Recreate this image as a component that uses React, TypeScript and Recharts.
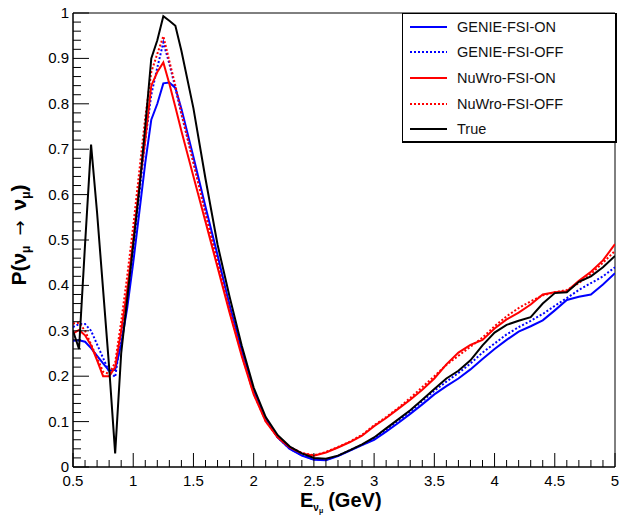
import React from 'react';
import {
  LineChart,
  Line,
  XAxis,
  YAxis,
  Legend,
  ReferenceArea,
} from 'recharts';

// neutrino energy (GeV)
const energies = [
  0.5, 0.55, 0.6, 0.65, 0.7, 0.75, 0.8, 0.85, 0.9, 0.95, 1.0, 1.05, 1.1, 1.15, 1.2, 1.25, 1.3, 1.35, 1.4,
  1.5, 1.6, 1.7, 1.8, 1.9, 2.0, 2.1, 2.2, 2.3, 2.4, 2.5, 2.6, 2.7, 2.8, 2.9, 3.0, 3.1, 3.2, 3.3, 3.4, 3.5,
  3.6, 3.7, 3.8, 3.9, 4.0, 4.1, 4.2, 4.3, 4.4, 4.5, 4.6, 4.7, 4.8, 4.9, 5.0,
];

const genieOn = [
  0.278, 0.279, 0.276, 0.262, 0.245, 0.228, 0.212, 0.214, 0.27, 0.35, 0.45, 0.56, 0.67, 0.765, 0.8, 0.845, 0.847, 0.835, 0.789,
  0.683, 0.573, 0.467, 0.355, 0.258, 0.168, 0.105, 0.065, 0.04, 0.025, 0.016, 0.015, 0.024, 0.036, 0.048, 0.06, 0.078, 0.097, 0.117, 0.138, 0.16,
  0.178, 0.195, 0.215, 0.238, 0.26, 0.28, 0.298, 0.31, 0.323, 0.345, 0.368, 0.375, 0.38, 0.402, 0.427,
];

const genieOff = [
  0.308, 0.315, 0.315, 0.3, 0.27, 0.24, 0.21, 0.198, 0.29, 0.38, 0.48, 0.6, 0.72, 0.82, 0.88, 0.935, 0.888, 0.835, 0.777,
  0.672, 0.564, 0.458, 0.355, 0.258, 0.168, 0.105, 0.065, 0.04, 0.026, 0.017, 0.016, 0.025, 0.037, 0.049, 0.062, 0.082, 0.102, 0.122, 0.145, 0.168,
  0.188, 0.207, 0.228, 0.252, 0.272, 0.292, 0.308, 0.322, 0.337, 0.355, 0.372, 0.39, 0.405, 0.42, 0.44,
];

const nuwroOn = [
  0.294, 0.302, 0.29, 0.268, 0.235, 0.2, 0.2, 0.22, 0.3, 0.39, 0.5, 0.62, 0.72, 0.84, 0.87, 0.891, 0.844, 0.793, 0.74,
  0.64, 0.54, 0.44, 0.34, 0.245, 0.16, 0.1, 0.065, 0.043, 0.03, 0.025, 0.032, 0.043, 0.055, 0.069, 0.09, 0.108, 0.128, 0.148, 0.17, 0.195,
  0.226, 0.252, 0.269, 0.28, 0.305, 0.325, 0.34, 0.358, 0.38, 0.385, 0.387, 0.41, 0.43, 0.455, 0.491,
];

const nuwroOff = [
  0.316, 0.318, 0.3, 0.27, 0.24, 0.21, 0.205, 0.23, 0.32, 0.42, 0.53, 0.65, 0.77, 0.87, 0.91, 0.949, 0.894, 0.84, 0.78,
  0.67, 0.557, 0.45, 0.345, 0.248, 0.162, 0.101, 0.066, 0.044, 0.031, 0.026, 0.033, 0.044, 0.056, 0.071, 0.092, 0.11, 0.13, 0.152, 0.176, 0.2,
  0.225, 0.245, 0.265, 0.285, 0.31, 0.332, 0.35, 0.365, 0.378, 0.385, 0.39, 0.405, 0.425, 0.45, 0.476,
];

const trueP = [
  0.3, 0.26, 0.49, 0.71, 0.56, 0.39, 0.22, 0.03, 0.25, 0.37, 0.49, 0.61, 0.75, 0.9, 0.94, 0.993, 0.983, 0.972, 0.917,
  0.79, 0.635, 0.49, 0.375, 0.268, 0.175, 0.11, 0.07, 0.045, 0.03, 0.02, 0.018, 0.025, 0.037, 0.05, 0.065, 0.085, 0.105, 0.125, 0.148, 0.172,
  0.195, 0.212, 0.235, 0.268, 0.296, 0.313, 0.322, 0.33, 0.36, 0.383, 0.385, 0.408, 0.42, 0.44, 0.465,
];

const xMajorTicks = [0.5, 1, 1.5, 2, 2.5, 3, 3.5, 4, 4.5, 5];
const yMajorTicks = [0, 0.1, 0.2, 0.3, 0.4, 0.5, 0.6, 0.7, 0.8, 0.9, 1];

const SERIES = [
  { key: 'genieOn', name: 'GENIE-FSI-ON', color: '#0000ff', dotted: false },
  { key: 'genieOff', name: 'GENIE-FSI-OFF', color: '#0000ff', dotted: true },
  { key: 'nuwroOn', name: 'NuWro-FSI-ON', color: '#ff0000', dotted: false },
  { key: 'nuwroOff', name: 'NuWro-FSI-OFF', color: '#ff0000', dotted: true },
  { key: 'trueP', name: 'True', color: '#000000', dotted: false },
];

const FONT = '"Liberation Sans", Arial, Helvetica, sans-serif';
const W = 622;
const H = 519;

const data = energies.map((e, i) => ({
  e,
  genieOn: genieOn[i],
  genieOff: genieOff[i],
  nuwroOn: nuwroOn[i],
  nuwroOff: nuwroOff[i],
  trueP: trueP[i],
}));

// ROOT-style ticks: 5 divisions between labelled ticks
const subdivide = (majors: number[]) => {
  const out: number[] = [];
  for (let i = 0; i < majors.length - 1; i++) {
    const step = (majors[i + 1] - majors[i]) / 5;
    for (let k = 0; k < 5; k++) out.push(+(majors[i] + k * step).toFixed(4));
  }
  out.push(majors[majors.length - 1]);
  return out;
};

const isMajor = (v: number, majors: number[]) => majors.some((m) => Math.abs(m - v) < 1e-6);
const fmt = (v: number) => String(Number(v.toFixed(1)));

const XTick = (props: any) => {
  const { x, y, payload } = props;
  const major = isMajor(payload.value, xMajorTicks);
  return (
    <g>
      <line x1={x} x2={x} y1={y} y2={y - (major ? 14 : 7)} stroke="#000" />
      {major && (
        <text x={x} y={y + 19} textAnchor="middle" fontSize={15} fontFamily={FONT} fill="#000">
          {fmt(payload.value)}
        </text>
      )}
    </g>
  );
};

const YTick = (props: any) => {
  const { x, y, payload } = props;
  const major = isMajor(payload.value, yMajorTicks);
  return (
    <g>
      <line x1={x} x2={x + (major ? 16 : 8)} y1={y} y2={y} stroke="#000" />
      {major && (
        <text x={x - 4} y={y + 5} textAnchor="end" fontSize={15} fontFamily={FONT} fill="#000">
          {fmt(payload.value)}
        </text>
      )}
    </g>
  );
};

const LegendBox = () => (
  <div
    style={{
      width: 215,
      height: 130,
      boxSizing: 'border-box',
      border: '1px solid #000',
      borderRightWidth: 2,
      borderBottomWidth: 2,
      background: '#fff',
      fontFamily: FONT,
      fontSize: 14.5,
      color: '#111',
    }}
  >
    {SERIES.map((s) => (
      <div key={s.key} style={{ height: 25.6, display: 'flex', alignItems: 'center' }}>
        <svg width={54} height={10} style={{ flexShrink: 0 }}>
          <line
            x1={7}
            x2={44}
            y1={5}
            y2={5}
            stroke={s.color}
            strokeWidth={2}
            strokeDasharray={s.dotted ? '2 2' : undefined}
          />
        </svg>
        <span>{s.name}</span>
      </div>
    ))}
  </div>
);

export default function App() {
  // pinned to the window corner so the body margin plays no part and nothing scrolls
  return (
    <div style={{ position: 'fixed', left: 0, top: 0, width: W, height: H, background: '#fff' }}>
      <LineChart width={W} height={H} data={data} margin={{ top: 13, right: 7, bottom: 0, left: 0 }}>
        <XAxis
          dataKey="e"
          type="number"
          domain={[0.5, 5]}
          ticks={subdivide(xMajorTicks)}
          interval={0}
          height={52}
          tickSize={0}
          tickMargin={0}
          tickLine={false}
          axisLine={{ stroke: '#000' }}
          tick={<XTick />}
          allowDataOverflow
        />
        <YAxis
          type="number"
          domain={[0, 1]}
          ticks={subdivide(yMajorTicks)}
          interval={0}
          width={73}
          tickSize={0}
          tickMargin={0}
          tickLine={false}
          axisLine={{ stroke: '#000' }}
          tick={<YTick />}
          allowDataOverflow
        />
        <ReferenceArea x1={0.5} x2={5} y1={0} y2={1} fill="none" stroke="#000" strokeWidth={1} />
        {SERIES.map((s) => (
          <Line
            key={s.key}
            dataKey={s.key}
            name={s.name}
            type="linear"
            stroke={s.color}
            strokeWidth={2}
            strokeDasharray={s.dotted ? '2 2' : undefined}
            dot={false}
            activeDot={false}
            isAnimationActive={false}
          />
        ))}
        <Legend
          layout="vertical"
          align="center"
          verticalAlign="middle"
          content={<LegendBox />}
          wrapperStyle={{ left: 402, top: 13, width: 215, height: 130 }}
        />
      </LineChart>
      <svg
        width={W}
        height={H}
        style={{ position: 'absolute', left: 0, top: 0, pointerEvents: 'none' }}
      >
        <text x={300} y={507} fontSize={20} fontWeight="bold" fontFamily={FONT} fill="#000">
          E
          <tspan fontSize={10} dy={4}>ν</tspan>
          <tspan fontSize={7} dy={2}>μ</tspan>
          <tspan fontSize={20} dy={-6} dx={5}>(GeV)</tspan>
        </text>
        <text
          transform="translate(26,235) rotate(-90)"
          textAnchor="middle"
          fontSize={21}
          fontWeight="bold"
          fontFamily={FONT}
          fill="#000"
        >
          P(ν
          <tspan fontSize={12} dy={4}>μ</tspan>
          <tspan dy={-4} dx={10} fontWeight="normal" fontFamily="DejaVu Sans" fontSize={18}>→</tspan>
          <tspan dx={10}>ν</tspan>
          <tspan fontSize={12} dy={4}>μ</tspan>
          <tspan dy={-4}>)</tspan>
        </text>
      </svg>
    </div>
  );
}
